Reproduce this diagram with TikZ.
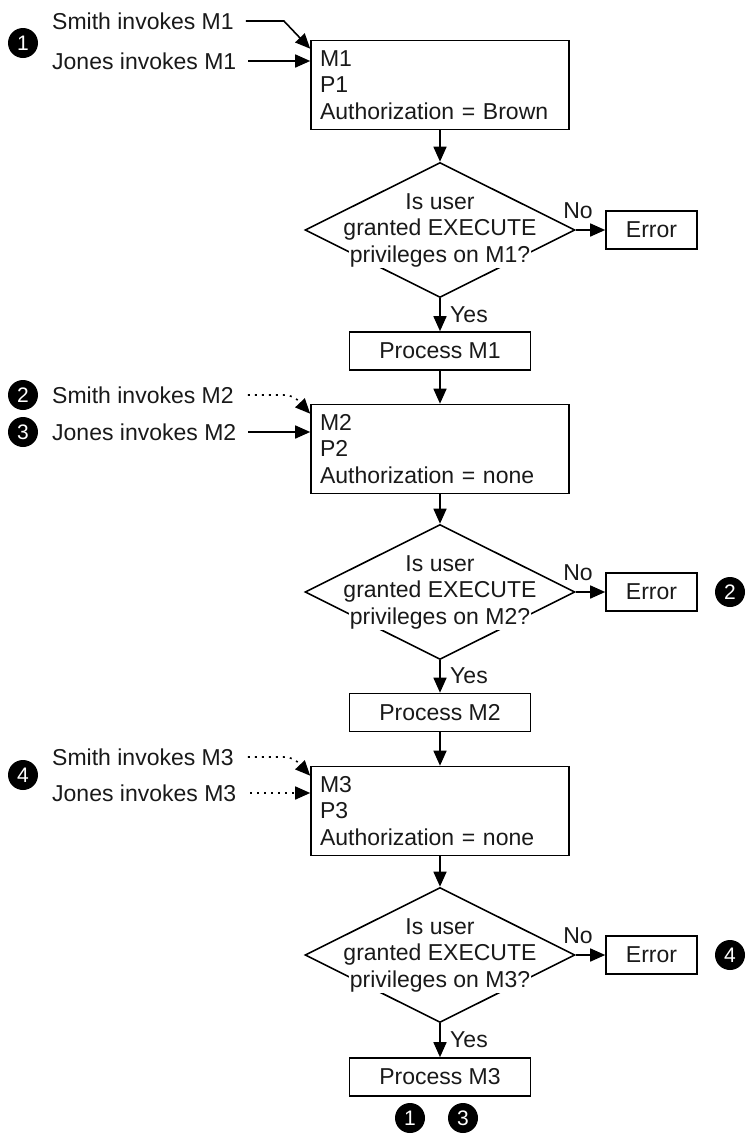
\documentclass[tikz,border=0pt]{standalone}
\usepackage{fontspec}
\setmainfont{Liberation Sans}
\usetikzlibrary{shapes.geometric,arrows.meta,calc}
\newcommand\hl[1]{{\fboxsep=0.8pt\colorbox{white}{#1}}}
\begin{document}
\begin{tikzpicture}[x=1pt,y=-1pt,
  every node/.style={font=\fontsize{23}{26.5}\selectfont, text=black!90},
  lw/.style={line width=1.6pt},
  mbox/.style={draw, lw, minimum width=258pt, minimum height=89pt, text width=240pt, inner xsep=9pt, align=left},
  pbox/.style={draw, lw, minimum width=181pt, minimum height=38pt, inner sep=0pt},
  ebox/.style={draw, lw, minimum width=91pt, minimum height=38pt, inner sep=0pt},
  dia/.style={draw, lw, diamond, minimum width=270pt, minimum height=135pt, inner sep=0pt},
  dtext/.style={align=center, inner sep=0pt, execute at begin node={\lineskiplimit=-100pt}},
  num/.style={circle, fill=black, text=white, minimum size=30pt, inner sep=0pt, font=\fontsize{21}{22}\selectfont},
  lbl/.style={anchor=west, inner xsep=0pt},
  yn/.style={inner sep=0pt},
  arr/.style={lw, -{Triangle[length=15pt,width=13pt]}},
  dotarr/.style={arr, dash pattern=on 2pt off 5pt}
]
\useasboundingbox (0,0) rectangle (745,1138);

% ---------- stage 1 ----------
\node[mbox] (m1) at (440,85) {M1\\P1\\Authorization = Brown};
\node[dia] (d1) at (440,230) {};
\node[dtext] (d1t) at (d1.center) {\hl{Is user}\\\hl{granted EXECUTE}\\\hl{privileges on M1?}};
\node[ebox] (e1) at (651.5,230) {Error};
\node[pbox] (p1) at (440,351) {Process M1};
\node[yn] (no1) at (578,211) {No};
\node[yn] (yes1) at (469,315) {Yes};

\node[num] (c1) at (23,43) {1};
\node[lbl] (s1) at (52,21) {Smith invokes M1};
\node[lbl] (j1) at (52,61) {Jones invokes M1};

\draw[arr, shorten <=12pt] (s1.east) -- ++(50,0) -- ($(m1.north west)+(0,9)$);
\draw[arr, shorten <=12pt] (j1.east) -- (j1.east -| m1.west);
\draw[arr] (m1.south) -- (d1.north);
\draw[arr] (d1.east) -- (e1.west);
\draw[arr] (d1.south) -- (p1.north);

% ---------- stage 2 ----------
\node[mbox] (m2) at (440,449) {M2\\P2\\Authorization = none};
\node[dia] (d2) at (440,592) {};
\node[dtext] (d2t) at (d2.center) {\hl{Is user}\\\hl{granted EXECUTE}\\\hl{privileges on M2?}};
\node[ebox] (e2) at (651.5,592) {Error};
\node[pbox] (p2) at (440,712.5) {Process M2};
\node[yn] (no2) at (578,573) {No};
\node[yn] (yes2) at (469,676) {Yes};
\node[num] (c2r) at (730,592) {2};

\node[num] (c2) at (23,395) {2};
\node[num] (c3) at (23,432) {3};
\node[lbl] (s2) at (52,395) {Smith invokes M2};
\node[lbl] (j2) at (52,432) {Jones invokes M2};

\draw[dotarr, shorten <=14pt] (s2.east) -- ++(50,0) .. controls (296,395) and (302,405) .. ($(m2.north west)+(0,10)$);
\draw[arr, shorten <=12pt] (j2.east) -- (j2.east -| m2.west);
\draw[arr] (p1.south) -- (m2.north);
\draw[arr] (m2.south) -- (d2.north);
\draw[arr] (d2.east) -- (e2.west);
\draw[arr] (d2.south) -- (p2.north);

% ---------- stage 3 ----------
\node[mbox] (m3) at (440,811) {M3\\P3\\Authorization = none};
\node[dia] (d3) at (440,955) {};
\node[dtext] (d3t) at (d3.center) {\hl{Is user}\\\hl{granted EXECUTE}\\\hl{privileges on M3?}};
\node[ebox] (e3) at (651.5,955) {Error};
\node[pbox] (p3) at (440,1077) {Process M3};
\node[yn] (no3) at (578,936) {No};
\node[yn] (yes3) at (469,1040) {Yes};
\node[num] (c4r) at (730,955) {4};

\node[num] (c4) at (23,775) {4};
\node[lbl] (s3) at (52,757) {Smith invokes M3};
\node[lbl] (j3) at (52,793) {Jones invokes M3};

\draw[dotarr, shorten <=14pt] (s3.east) -- ++(50,0) .. controls (296,757) and (302,767) .. ($(m3.north west)+(0,10)$);
\draw[dotarr, shorten <=14pt] (j3.east) -- (j3.east -| m3.west);
\draw[arr] (p2.south) -- (m3.north);
\draw[arr] (m3.south) -- (d3.north);
\draw[arr] (d3.east) -- (e3.west);
\draw[arr] (d3.south) -- (p3.north);

\node[num] (c1b) at (410,1118) {1};
\node[num] (c3b) at (463,1118) {3};
\end{tikzpicture}
\end{document}
